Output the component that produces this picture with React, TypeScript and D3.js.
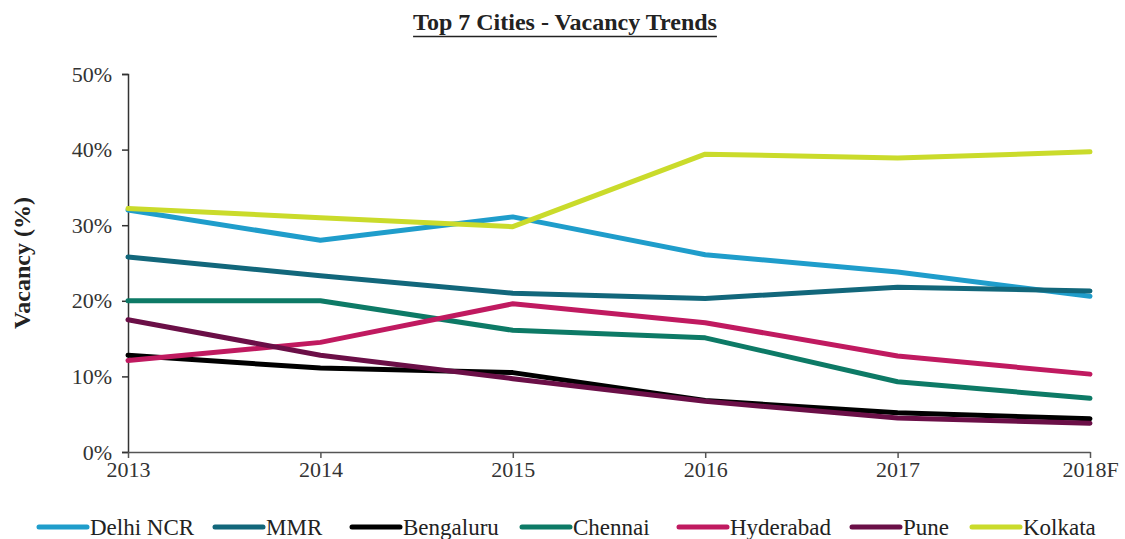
import React, { useEffect, useRef } from 'react';
import * as d3 from 'd3';

const years = ['2013', '2014', '2015', '2016', '2017', '2018F'];
const cities = ['Delhi NCR', 'MMR', 'Bengaluru', 'Chennai', 'Hyderabad', 'Pune', 'Kolkata'];
const colors = ['#1f9dcb', '#12677b', '#000000', '#0d7a66', '#c01a60', '#6b0f47', '#cadb2b'];

const delhi = [32.0, 28.0, 31.1, 26.1, 23.8, 20.6];
const mmr = [25.8, 23.3, 21.0, 20.3, 21.8, 21.3];
const bengaluru = [12.8, 11.1, 10.5, 6.8, 5.2, 4.4];
const chennai = [20.0, 20.0, 16.1, 15.1, 9.3, 7.1];
const hyderabad = [12.1, 14.5, 19.6, 17.1, 12.7, 10.3];
const pune = [17.5, 12.8, 9.7, 6.7, 4.5, 3.8];
const kolkata = [32.2, 31.0, 29.8, 39.4, 38.9, 39.7];

const yTicks = [0, 10, 20, 30, 40, 50];

const W = 1125;
const H = 539;
const margin = { left: 128, right: 35, top: 74, bottom: 87 };
const FONT = '"Liberation Serif", "Times New Roman", serif';

export default function App() {
  const ref = useRef<SVGSVGElement>(null);

  useEffect(() => {
    const svg = d3.select(ref.current);
    svg.selectAll('*').remove();

    const series = [delhi, mmr, bengaluru, chennai, hyderabad, pune, kolkata];

    const x = d3.scalePoint<string>()
      .domain(years)
      .range([margin.left, W - margin.right]);
    const y = d3.scaleLinear()
      .domain([0, 50])
      .range([H - margin.bottom, margin.top]);

    // title
    const title = svg.append('text')
      .attr('x', 565)
      .attr('y', 30)
      .attr('text-anchor', 'middle')
      .style('font-family', FONT)
      .style('font-weight', 'bold')
      .style('font-size', '24px')
      .attr('fill', '#222')
      .text('Top 7 Cities - Vacancy Trends');
    const bb = (title.node() as SVGTextElement).getBBox();
    svg.append('line')
      .attr('x1', bb.x).attr('x2', bb.x + bb.width)
      .attr('y1', 36.5).attr('y2', 36.5)
      .attr('stroke', '#222').attr('stroke-width', 1.6);

    // y axis
    const yAxis = svg.append('g')
      .attr('transform', `translate(${margin.left},0)`)
      .call(d3.axisLeft(y).tickValues(yTicks).tickSize(6).tickPadding(10).tickFormat(d => `${d}%`));
    yAxis.select('.domain').attr('stroke', '#333').attr('stroke-width', 1.5);
    yAxis.selectAll('.tick line').attr('stroke', '#333').attr('stroke-width', 1.5);
    yAxis.selectAll('.tick text')
      .style('font-family', FONT).style('font-size', '22px').attr('fill', '#333');

    // x axis
    const xAxis = svg.append('g')
      .attr('transform', `translate(0,${H - margin.bottom})`)
      .call(d3.axisBottom(x).tickSize(6).tickSizeOuter(0).tickPadding(3));
    xAxis.select('.domain').attr('stroke', '#555').attr('stroke-width', 1.5);
    xAxis.selectAll('.tick line').attr('stroke', '#555').attr('stroke-width', 1.5);
    xAxis.selectAll('.tick text')
      .style('font-family', FONT).style('font-size', '22px').attr('fill', '#333');

    // y label
    svg.append('text')
      .attr('transform', `translate(30,${(margin.top + H - margin.bottom) / 2}) rotate(-90)`)
      .attr('text-anchor', 'middle')
      .style('font-family', FONT)
      .style('font-weight', 'bold')
      .style('font-size', '24px')
      .attr('fill', '#222')
      .text('Vacancy (%)');

    // lines
    const line = d3.line<number>()
      .x((_, i) => x(years[i]) as number)
      .y(d => y(d));

    svg.append('g').selectAll('path')
      .data(series)
      .join('path')
      .attr('d', d => line(d))
      .attr('fill', 'none')
      .attr('stroke', (_, i) => colors[i])
      .attr('stroke-width', 5)
      .attr('stroke-linecap', 'round')
      .attr('stroke-linejoin', 'round');

    // legend
    const legendX = [37, 213, 350, 520, 677, 850, 970];
    const legend = svg.append('g');
    cities.forEach((c, i) => {
      const g = legend.append('g').attr('transform', `translate(${legendX[i]},527)`);
      g.append('line')
        .attr('x1', 2).attr('x2', 50)
        .attr('y1', 0).attr('y2', 0)
        .attr('stroke', colors[i])
        .attr('stroke-width', 5)
        .attr('stroke-linecap', 'round');
      g.append('text')
        .attr('x', 53)
        .attr('y', 8)
        .style('font-family', FONT)
        .style('font-size', '23px')
        .attr('fill', '#222')
        .text(c);
    });
  }, []);

  return (
    <svg ref={ref} width={W} height={H}
      style={{ position: 'absolute', left: 0, top: 0, background: '#fff' }} />
  );
}
